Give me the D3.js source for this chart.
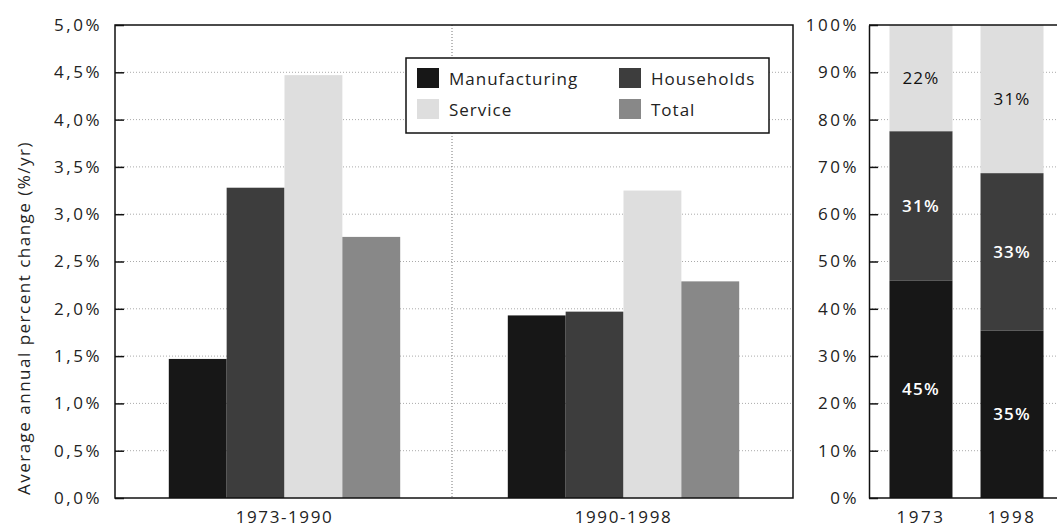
<!DOCTYPE html>
<html><head><meta charset="utf-8">
<script src="https://cdn.jsdelivr.net/npm/d3@7"></script>
<style>
body{margin:0;background:#fff;}
text{font-family:"Open Sans",sans-serif;fill:#222;}
</style></head>
<body><svg id="c" width="1057" height="527"></svg>
<script>
// ---- data ----
const periods = ["1973-1990", "1990-1998"];
const series = ["Manufacturing", "Households", "Service", "Total"];
const manufacturing = [1.47, 1.93];
const households = [3.28, 1.97];
const service = [4.47, 3.25];
const total = [2.76, 2.29];
const leftTicks = [0, 0.5, 1, 1.5, 2, 2.5, 3, 3.5, 4, 4.5, 5];

const years = ["1973", "1998"];
const shareSeries = ["Manufacturing", "Households", "Service"];
const shareManufacturing = [45, 35];
const shareHouseholds = [31, 33];
const shareService = [22, 31];
const rightTicks = [0, 0.1, 0.2, 0.3, 0.4, 0.5, 0.6, 0.7, 0.8, 0.9, 1];

const colors = {Manufacturing:"#171717", Households:"#3d3d3d", Service:"#dedede", Total:"#888888"};
const labelColors = {Manufacturing:"#fff", Households:"#fff", Service:"#111"};

const svg = d3.select("#c");
const yTop = 25, yBot = 498;

// ---- left chart ----
const L = {x0:115, x1:793};
const growth = {Manufacturing:manufacturing, Households:households, Service:service, Total:total};
const rows = periods.map((p,i)=>({period:p, values:series.map(s=>({key:s, v:growth[s][i]}))}));
const x0 = d3.scaleBand().domain(periods).range([L.x0, L.x1]);
const x1 = d3.scaleBand().domain(series).range([0, x0.bandwidth()]).paddingOuter(0.93);
const y = d3.scaleLinear().domain([0,5]).range([yBot, yTop]);
const fmtL = d => d3.format(".1f")(d).replace(".", ",") + "%";

const gL = svg.append("g");
gL.selectAll("line.grid").data(leftTicks.filter(t=>t>0 && t<5)).join("line")
  .attr("x1", L.x0).attr("x2", L.x1).attr("y1", d=>y(d)).attr("y2", d=>y(d))
  .attr("stroke", "#aaa").attr("stroke-width", 1).attr("stroke-dasharray", "1,2");
gL.append("line").attr("x1", x0("1990-1998")-2).attr("x2", x0("1990-1998")-2)
  .attr("y1", yTop).attr("y2", yBot).attr("stroke", "#777").attr("stroke-dasharray", "1,2");
gL.selectAll("g.grp").data(rows).join("g").attr("transform", d=>`translate(${x0(d.period)},0)`)
  .selectAll("rect").data(d=>d.values).join("rect")
  .attr("x", d=>x1(d.key)).attr("width", x1.bandwidth())
  .attr("y", d=>y(d.v)).attr("height", d=>yBot - y(d.v))
  .attr("fill", d=>colors[d.key]);
gL.append("rect").attr("x", L.x0).attr("y", yTop).attr("width", L.x1-L.x0).attr("height", yBot-yTop)
  .attr("fill","none").attr("stroke","#111").attr("stroke-width",1.5);
const axL = gL.append("g").attr("transform", `translate(${L.x0},0)`)
  .call(d3.axisLeft(y).tickValues(leftTicks).tickFormat(fmtL).tickSizeInner(-9).tickSizeOuter(0).tickPadding(13));
axL.select(".domain").remove();
axL.selectAll("line").attr("stroke","#111").attr("stroke-width",1.5);
axL.selectAll("text").style("font-size","17px").style("letter-spacing","2.5px").attr("fill","#222");
gL.selectAll("text.xl").data(periods).join("text")
  .attr("x", d=>x0(d)+x0.bandwidth()/2).attr("y", 523).attr("text-anchor","middle")
  .style("font-size","17px").style("letter-spacing","1.6px").text(d=>d);
svg.append("text").attr("transform","translate(30,318) rotate(-90)").attr("text-anchor","middle")
  .style("font-size","17px").style("letter-spacing","1.5px").text("Average annual percent change (%/yr)");

// legend
const lg = svg.append("g");
lg.append("rect").attr("x",406).attr("y",58).attr("width",363).attr("height",75)
  .attr("fill","#fff").attr("stroke","#111").attr("stroke-width",1.5);
const legPos = [[417,68],[619,68],[417,99],[619,99]];
const legOrder = ["Manufacturing","Households","Service","Total"];
legOrder.forEach((s,i)=>{
  const [lx,ly] = legPos[i];
  lg.append("rect").attr("x",lx).attr("y",ly).attr("width",22).attr("height",20).attr("fill",colors[s]);
  lg.append("text").attr("x",lx+32).attr("y",ly+17).style("font-size","17px").style("letter-spacing","1px").text(s);
});

// ---- right chart ----
const R = {x0:869, x1:1057};
const shares = {Manufacturing:shareManufacturing, Households:shareHouseholds, Service:shareService};
const tbl = years.map((yy,i)=>{const o={year:yy}; shareSeries.forEach(s=>o[s]=shares[s][i]); return o;});
const stacked = d3.stack().keys(shareSeries).offset(d3.stackOffsetExpand)(tbl);
const xr = d3.scaleBand().domain(years).range([869,1064]).paddingInner(0.308).paddingOuter(0.225);
const yr = d3.scaleLinear().domain([0,1]).range([yBot, yTop]);
const gR = svg.append("g");
gR.selectAll("line.grid").data(rightTicks.filter(t=>t>0 && t<1)).join("line")
  .attr("x1", R.x0).attr("x2", R.x1).attr("y1", d=>yr(d)).attr("y2", d=>yr(d))
  .attr("stroke", "#aaa").attr("stroke-dasharray", "1,2");
const layers = gR.selectAll("g.layer").data(stacked).join("g");
layers.selectAll("rect").data(d=>d.map(v=>({key:d.key, v}))).join("rect")
  .attr("x", d=>xr(d.v.data.year)).attr("width", xr.bandwidth())
  .attr("y", d=>yr(d.v[1])).attr("height", d=>yr(d.v[0]) - yr(d.v[1]))
  .attr("fill", d=>colors[d.key]);
layers.selectAll("text").data(d=>d.map(v=>({key:d.key, v}))).join("text")
  .attr("x", d=>xr(d.v.data.year)+xr.bandwidth()/2)
  .attr("y", d=>(yr(d.v[0])+yr(d.v[1]))/2 + 6)
  .attr("text-anchor","middle").style("font-size","17px").style("letter-spacing","1.2px")
  .style("font-weight", d=>d.key==="Service"?"400":"600")
  .style("fill", d=>labelColors[d.key]).text(d=>d.v.data[d.key] + "%");
gR.append("line").attr("x1",R.x0).attr("x2",R.x1).attr("y1",yTop).attr("y2",yTop).attr("stroke","#111").attr("stroke-width",1.5);
gR.append("line").attr("x1",R.x0).attr("x2",R.x1).attr("y1",yBot).attr("y2",yBot).attr("stroke","#111").attr("stroke-width",1.5);
const axR = gR.append("g").attr("transform", `translate(${R.x0},0)`)
  .call(d3.axisLeft(yr).tickValues(rightTicks).tickFormat(d3.format(".0%")).tickSizeInner(-9).tickSizeOuter(0).tickPadding(10));
axR.select(".domain").attr("stroke","#111").attr("stroke-width",1.5);
axR.selectAll("line").attr("stroke","#111").attr("stroke-width",1.5);
axR.selectAll("text").style("font-size","17px").style("letter-spacing","2.5px").attr("fill","#222");
gR.selectAll("text.xl").data(years).join("text")
  .attr("x", d=>xr(d)+xr.bandwidth()/2).attr("y", 523).attr("text-anchor","middle")
  .style("font-size","17px").style("letter-spacing","2.5px").text(d=>d);
</script></body></html>
